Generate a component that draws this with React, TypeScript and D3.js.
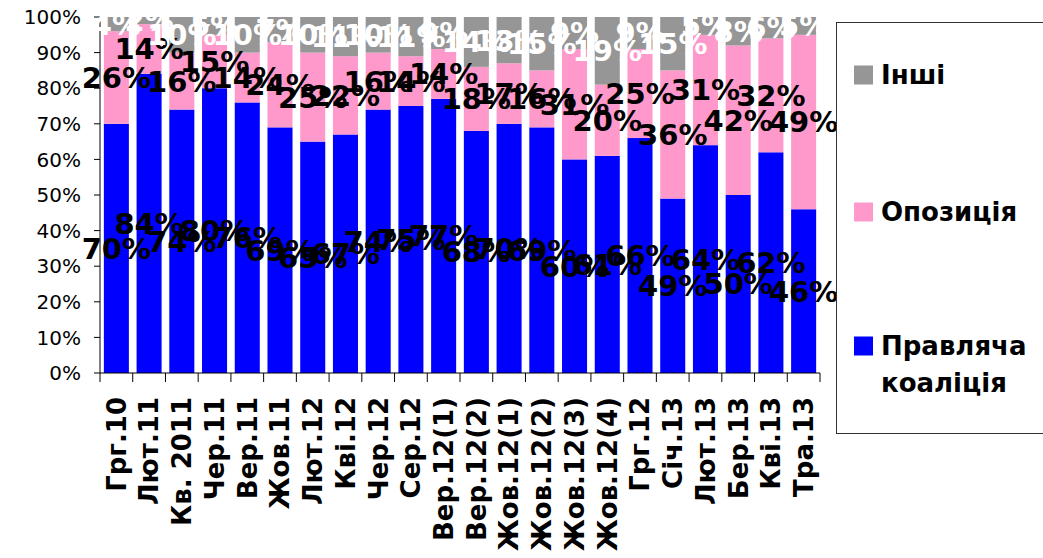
import React from "react";
import * as d3 from "d3";

const categories = [
  "Грг.10", "Лют.11", "Кв. 2011", "Чер.11", "Вер.11", "Жов.11", "Лют.12", "Кві.12",
  "Чер.12", "Сер.12", "Вер.12(1)", "Вер.12(2)", "Жов.12(1)", "Жов.12(2)", "Жов.12(3)",
  "Жов.12(4)", "Грг.12", "Січ.13", "Лют.13", "Бер.13", "Кві.13", "Тра.13",
];
const coalition = [70, 84, 74, 80, 76, 69, 65, 67, 74, 75, 77, 68, 70, 69, 60, 61, 66, 49, 64, 50, 62, 46];
const opposition = [26, 14, 16, 15, 14, 24, 25, 22, 16, 14, 14, 18, 17, 16, 31, 20, 25, 36, 31, 42, 32, 49];
const others = [4, 2, 10, 5, 10, 7, 10, 11, 10, 11, 9, 14, 13, 15, 9, 19, 9, 15, 5, 8, 6, 5];
const seriesNames = ["Правляча коаліція", "Опозиція", "Інші"];
const yTicks = [0, 10, 20, 30, 40, 50, 60, 70, 80, 90, 100];

const colors = ["#0000FF", "#FF99CC", "#969696"];
const labelColors = ["#000", "#000", "#fff"];

export default function App() {
  const left = 100, right = 820, top = 17, bottom = 373;
  const x = d3.scaleBand<string>().domain(categories).range([left, right]).paddingInner(0.235).paddingOuter(0.1175);
  const y = d3.scaleLinear().domain([0, 100]).range([bottom, top]);
  const seriesData = [coalition, opposition, others];
  const rows = categories.map((c, i) => ({ c, v: seriesData.map((s) => s[i]) }));
  const stack = rows.map((r) => {
    let acc = 0;
    return r.v.map((v) => {
      const s = { y0: acc, y1: acc + v, v };
      acc += v;
      return s;
    });
  });
  const step = x.step();
  const font = "'DejaVu Sans', Verdana, sans-serif";

  return (
    <svg width={1043} height={558} style={{ position: "absolute", left: 0, top: 0, background: "#fff" }} fontFamily={font}>
      {/* bars */}
      {[0, 1, 2].map((si) => (
        <g key={si}>
          {categories.map((c, i) => {
            const s = stack[i][si];
            return (
              <rect key={c} x={x(c)} width={x.bandwidth()} y={y(s.y1)} height={y(s.y0) - y(s.y1)} fill={colors[si]} />
            );
          })}
        </g>
      ))}
      {/* axes */}
      <line x1={left} x2={left} y1={top} y2={bottom} stroke="#000" strokeWidth={1} />
      <line x1={left} x2={right} y1={bottom} y2={bottom} stroke="#000" strokeWidth={1} />
      {yTicks.map((t) => (
        <g key={t}>
          <line x1={left - 6} x2={left} y1={y(t)} y2={y(t)} stroke="#000" />
          <text x={81} y={y(t)} dy="0.36em" textAnchor="end" fontSize={20} fill="#000">{t}%</text>
        </g>
      ))}
      {d3.range(categories.length + 1).map((i) => (
        <line key={i} x1={left + i * step} x2={left + i * step} y1={bottom} y2={bottom + 9} stroke="#000" />
      ))}
      {categories.map((c) => {
        const cx = (x(c) as number) + x.bandwidth() / 2;
        return (
          <text key={c} transform={`translate(${cx},397) rotate(-90)`} dy="0.36em" textAnchor="end" fontSize={26} fontWeight="bold" fill="#000">
            {c}
          </text>
        );
      })}
      {/* data labels */}
      {[0, 1, 2].map((si) => (
        <g key={"l" + si}>
          {categories.map((c, i) => {
            const s = stack[i][si];
            const cx = (x(c) as number) + x.bandwidth() / 2;
            return (
              <text key={c} x={cx} y={y((s.y0 + s.y1) / 2)} dy="0.36em" textAnchor="middle" fontSize={29} fontWeight="bold" fill={labelColors[si]}>
                {s.v}%
              </text>
            );
          })}
        </g>
      ))}
      {/* legend */}
      <rect x={836.5} y={22.5} width={220} height={411} fill="#fff" stroke="#333" strokeWidth={1} />
      {[
        { si: 2, cy: 75, lines: ["Інші"] },
        { si: 1, cy: 212, lines: ["Опозиція"] },
        { si: 0, cy: 346, lines: ["Правляча", "коаліція"] },
      ].map((d) => (
        <g key={d.si}>
          <rect x={854} y={d.cy - 9.5} width={19} height={19} fill={colors[d.si]} />
          {d.lines.map((ln, k) => (
            <text key={k} x={881} y={d.cy + k * 37} dy="0.36em" fontSize={26} fontWeight="bold" fill="#000">{ln}</text>
          ))}
        </g>
      ))}
    </svg>
  );
}
